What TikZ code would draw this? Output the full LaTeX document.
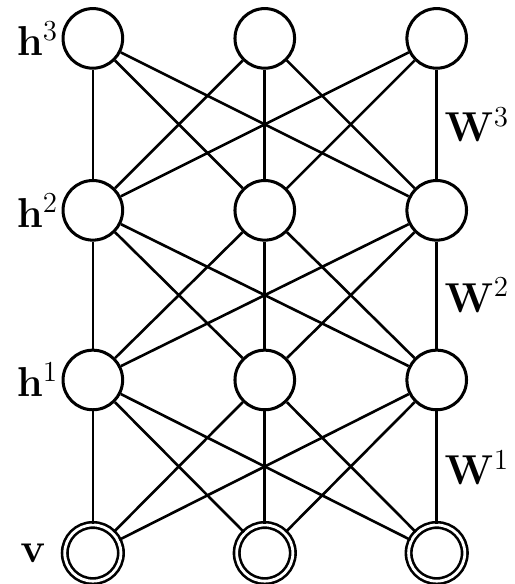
\documentclass[tikz,border=0pt]{standalone}
\usetikzlibrary{positioning}

\begin{document}
\begin{tikzpicture}[font=\fontsize{22}{26}\selectfont, line width=1.3pt,
  unit/.style={draw, circle, line width=1.5pt, minimum size=10.4mm, inner sep=0pt},
  visible/.style={unit, double, line width=1.3pt, double distance=1.4pt, minimum size=9.8mm},
  lbl/.style={inner sep=1pt}]
  \useasboundingbox (0,0) rectangle (8.98,10.19);
  % units, one column at a time
  \foreach \x [count=\i] in {1.62,4.62,7.62} {
    \node[visible] (v-\i)  at (\x,0.54) {};
    \node[unit]    (h1-\i) at (\x,3.56) {};
    \node[unit]    (h2-\i) at (\x,6.52) {};
    \node[unit]    (h3-\i) at (\x,9.52) {};
  }
  % full connections between neighbouring layers
  \foreach \i in {1,2,3} \foreach \j in {1,2,3} {
    \draw (v-\i) -- (h1-\j);
    \draw (h1-\i) -- (h2-\j);
    \draw (h2-\i) -- (h3-\j);
  }
  \node[lbl, left=0pt of h3-1] (lh3) {$\mathbf{h}^3$};
  \node[lbl, left=0pt of h2-1] (lh2) {$\mathbf{h}^2$};
  \node[lbl, left=0pt of h1-1] (lh1) {$\mathbf{h}^1$};
  \node[lbl, left=2.5mm of v-1] (lv) {$\mathbf{v}$};
  \path (h2-3) -- node[right=0pt] (w3) {$\mathbf{W}^3$} (h3-3);
  \path (h1-3) -- node[right=0pt] (w2) {$\mathbf{W}^2$} (h2-3);
  \path (v-3) -- node[right=0pt] (w1) {$\mathbf{W}^1$} (h1-3);
\end{tikzpicture}
\end{document}
